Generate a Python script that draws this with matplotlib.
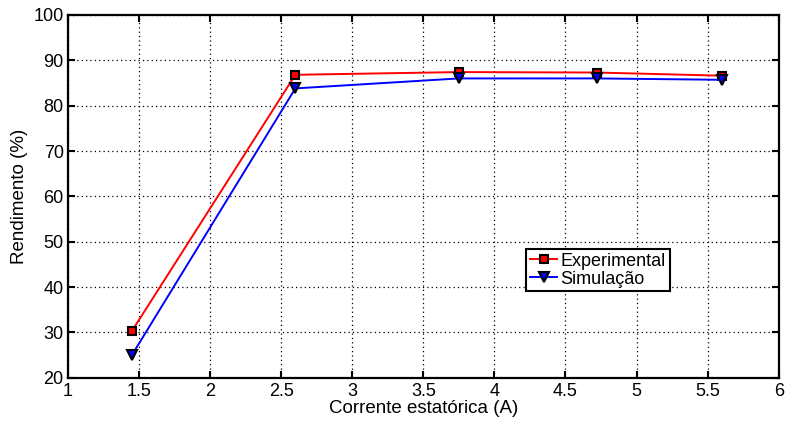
import matplotlib.pyplot as plt

plt.rcParams['font.family'] = ['Liberation Sans', 'DejaVu Sans']

corrente = [1.45, 2.6, 3.75, 4.72, 5.6]
experimental = [30.3, 86.8, 87.4, 87.3, 86.6]
simulacao = [25.0, 83.8, 86.0, 86.0, 85.7]

fig = plt.figure(figsize=(7.89, 4.26), dpi=100)
ax = fig.add_axes([0.086, 0.113, 0.901, 0.852])

ax.plot(corrente, experimental, '-', color='red', lw=1.4, marker='s', ms=6,
        mfc='red', mec='black', mew=1.5, label='Experimental')
ax.plot(corrente, simulacao, '-', color='blue', lw=1.4, marker='v', ms=7,
        mfc='blue', mec='black', mew=1.5, label='Simulação')

ax.set_xlim(1, 6)
ax.set_ylim(20, 100)
ax.set_xticks([1, 1.5, 2, 2.5, 3, 3.5, 4, 4.5, 5, 5.5, 6])
ax.set_xticklabels(['1', '1.5', '2', '2.5', '3', '3.5', '4', '4.5', '5', '5.5', '6'])
ax.set_yticks(range(20, 101, 10))
ax.grid(True, color='black', linestyle=(0, (1, 2.5)), lw=0.9)
ax.tick_params(direction='in', top=True, right=True, length=5, width=1.5,
               labelsize=13)
ax.tick_params(axis='x', pad=4)
ax.tick_params(axis='y', pad=3)
for s in ax.spines.values():
    s.set_linewidth(1.6)

ax.set_xlabel('Corrente estatórica (A)', fontsize=13.5, labelpad=0)
ax.set_ylabel('Rendimento (%)', fontsize=13.5, labelpad=4)

leg = ax.legend(loc='upper left', bbox_to_anchor=(0.645, 0.355), fontsize=13,
                frameon=True, fancybox=False, edgecolor='black', framealpha=1,
                handlelength=1.5, handletextpad=0.2, borderpad=0.2,
                labelspacing=0.05, borderaxespad=0)
leg.get_frame().set_linewidth(1.5)

fig.savefig('out.png', dpi=100)
